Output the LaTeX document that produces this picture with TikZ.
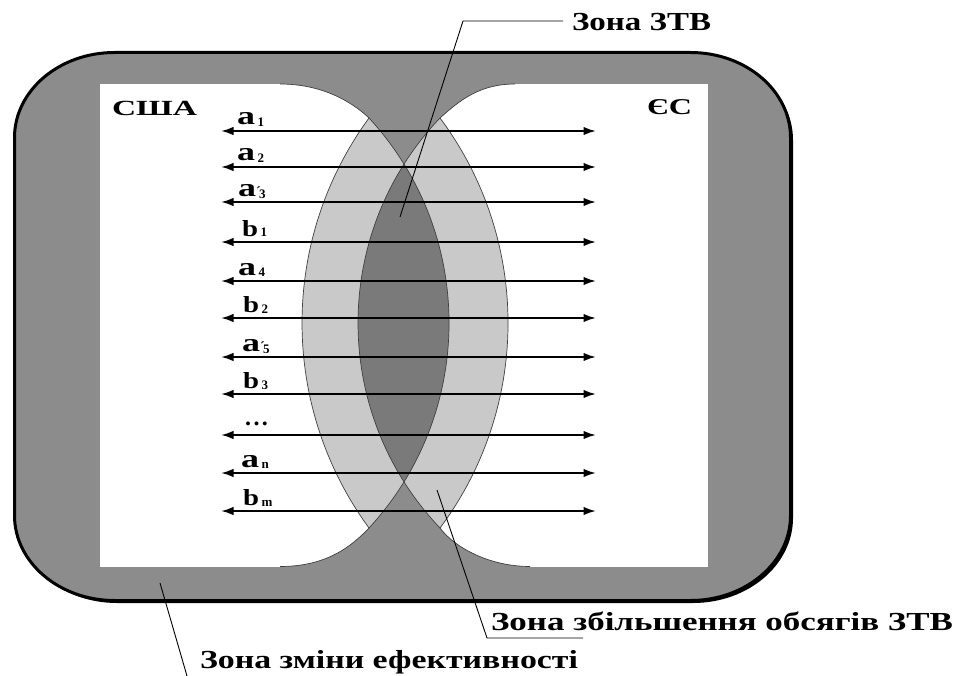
\documentclass[tikz,border=0pt]{standalone}
\usepackage{fontspec}
\setmainfont{Liberation Serif}
\usepackage{graphicx}
\usetikzlibrary{arrows.meta}
\definecolor{bandcol}{gray}{0.55}
\definecolor{lenscol}{gray}{0.48}
\definecolor{lightcol}{gray}{0.79}
\newcommand\labA[1]{\bfseries\resizebox{18pt}{12pt}{a}\hspace{2.5pt}\raisebox{-1.5pt}{\fontsize{13}{14}\selectfont #1}}
\newcommand\labB[1]{\bfseries\resizebox{16pt}{16pt}{b}\hspace{2.5pt}\raisebox{-1pt}{\fontsize{13}{14}\selectfont #1}}
\newcommand\labP[1]{\bfseries\resizebox{18pt}{12pt}{a}\rlap{\fontsize{14}{14}\selectfont ´}\hspace{3pt}\raisebox{-2pt}{\fontsize{13}{14}\selectfont #1}}
\newcommand\zonetext[2]{\bfseries\resizebox{#1}{\height}{\fontsize{26}{30}\selectfont #2}}
\tikzset{
  biarrow/.style={line width=2pt, {Latex[length=12.5pt,width=8.5pt]}-{Latex[length=12.5pt,width=8.5pt]}},
  lab/.style={anchor=base west, inner sep=0pt, outer sep=0pt},
  leader/.style={line width=0.9pt, black},
  edgeline/.style={line width=0.7pt, black!75},
}
\begin{document}
\begin{tikzpicture}[x=1pt,y=-1pt]
\useasboundingbox (0,0) rectangle (957,676);
% shadow + outer band
\fill[black, shift={(2.5,2.5)}] (114.5,52.5) -- (690.5,52.5) .. controls (745.7,52.5) and (790.5,90.6) .. (790.5,137.5) -- (790.5,515.5) .. controls (790.5,562.4) and (745.7,600.5) .. (690.5,600.5) -- (114.5,600.5) .. controls (59.3,600.5) and (14.5,562.4) .. (14.5,515.5) -- (14.5,137.5) .. controls (14.5,90.6) and (59.3,52.5) .. cycle;
\filldraw[fill=bandcol, draw=black, line width=3pt] (114.5,52.5) -- (690.5,52.5) .. controls (745.7,52.5) and (790.5,90.6) .. (790.5,137.5) -- (790.5,515.5) .. controls (790.5,562.4) and (745.7,600.5) .. (690.5,600.5) -- (114.5,600.5) .. controls (59.3,600.5) and (14.5,562.4) .. (14.5,515.5) -- (14.5,137.5) .. controls (14.5,90.6) and (59.3,52.5) .. cycle;
% white field
\fill[white] (100,84) rectangle (707.5,566.5);
% dark caps
\fill[bandcol] (280,84) .. controls (320,84) and (350,100) .. (369,118) -- (404,200) -- (440,118) .. controls (460,100) and (480,84) .. (515,84) -- (515,80) -- (280,80) -- cycle;
\fill[bandcol] (280,566.5) .. controls (325,566.5) and (350,548) .. (369,528) -- (404,440) -- (440,528) .. controls (455,548) and (490,566.5) .. (530,566.5) -- (530,570) -- (280,570) -- cycle;
\draw[edgeline] (280,84) .. controls (320,84) and (350,100) .. (369,118);
\draw[edgeline] (440,118) .. controls (460,100) and (480,84) .. (515,84);
\draw[edgeline] (280,566.5) .. controls (325,566.5) and (350,548) .. (369,528);
\draw[edgeline] (440,528) .. controls (455,548) and (490,566.5) .. (530,566.5);
% two zones
\fill[lightcol] (369,118) .. controls (475.7,233.8) and (475.7,412.2) .. (369,528) .. controls (279.7,406) and (279.7,240) .. cycle;
\fill[lightcol] (440,118) .. controls (530.7,239.6) and (530.7,406.4) .. (440,528) .. controls (330.7,413.1) and (330.7,232.9) .. cycle;
\begin{scope}
\clip (369,118) .. controls (475.7,233.8) and (475.7,412.2) .. (369,528) .. controls (279.7,406) and (279.7,240) .. cycle;
\fill[lenscol] (440,118) .. controls (530.7,239.6) and (530.7,406.4) .. (440,528) .. controls (330.7,413.1) and (330.7,232.9) .. cycle;
\end{scope}
\draw[edgeline] (369,118) .. controls (475.7,233.8) and (475.7,412.2) .. (369,528) .. controls (279.7,406) and (279.7,240) .. cycle;
\draw[edgeline] (440,118) .. controls (530.7,239.6) and (530.7,406.4) .. (440,528) .. controls (330.7,413.1) and (330.7,232.9) .. cycle;
% arrows
\foreach \i/\y in {1/131,2/167,3/202,4/242,5/281,6/318,7/357,8/394,9/435,10/473,11/511}{
  \coordinate (al\i) at (221,\y);
  \coordinate (ar\i) at (596,\y);
  \draw[biarrow] (al\i) -- (ar\i);
}
% arrow labels
\node[lab] (t1) at (237,125) {\labA{1}};
\node[lab] (t2) at (237,161) {\labA{2}};
\node[lab] (t3) at (238,196.5) {\labP{3}};
\node[lab] (t4) at (242,236) {\labB{1}};
\node[lab] (t5) at (238,275) {\labA{4}};
\node[lab] (t6) at (243,312.5) {\labB{2}};
\node[lab] (t7) at (242,351) {\labP{5}};
\node[lab] (t8) at (243,388.5) {\labB{3}};
\node[lab] (t9) at (245,425.5) {\bfseries\fontsize{24}{24}\selectfont .\kern2.5pt.\kern2.5pt.};
\node[lab] (t10) at (241,467) {\labA{n}};
\node[lab] (t11) at (243,505) {\labB{m}};
% region names
\node[lab] (usa) at (112,116) {\bfseries\resizebox{85pt}{\height}{\fontsize{21.6}{24}\selectfont США}};
\node[lab] (eu) at (647,115) {\bfseries\resizebox{45pt}{\height}{\fontsize{22.6}{24}\selectfont ЄС}};
% zone labels
\node[lab] (zl1) at (572,31) {\zonetext{139pt}{Зона ЗТВ}};
\node[lab] (zl2) at (491,630) {\zonetext{462pt}{Зона збільшення обсягів ЗТВ}};
\node[lab] (zl3) at (200,668) {\zonetext{378pt}{Зона зміни ефективності}};
% leaders
\coordinate (p1) at (400,217);
\coordinate (k1) at (463,21);
\draw[leader] (p1) -- (k1) -- ([xshift=-9pt]k1 -| zl1.west);
\coordinate (p2) at (437,490);
\coordinate (k2) at (487,638);
\coordinate (e2) at (583,638);
\draw[leader] (p2) -- (k2) -- (e2);
\coordinate (p3) at (160,583);
\coordinate (k3) at (187,676);
\draw[leader] (p3) -- (k3);
\end{tikzpicture}
\end{document}
